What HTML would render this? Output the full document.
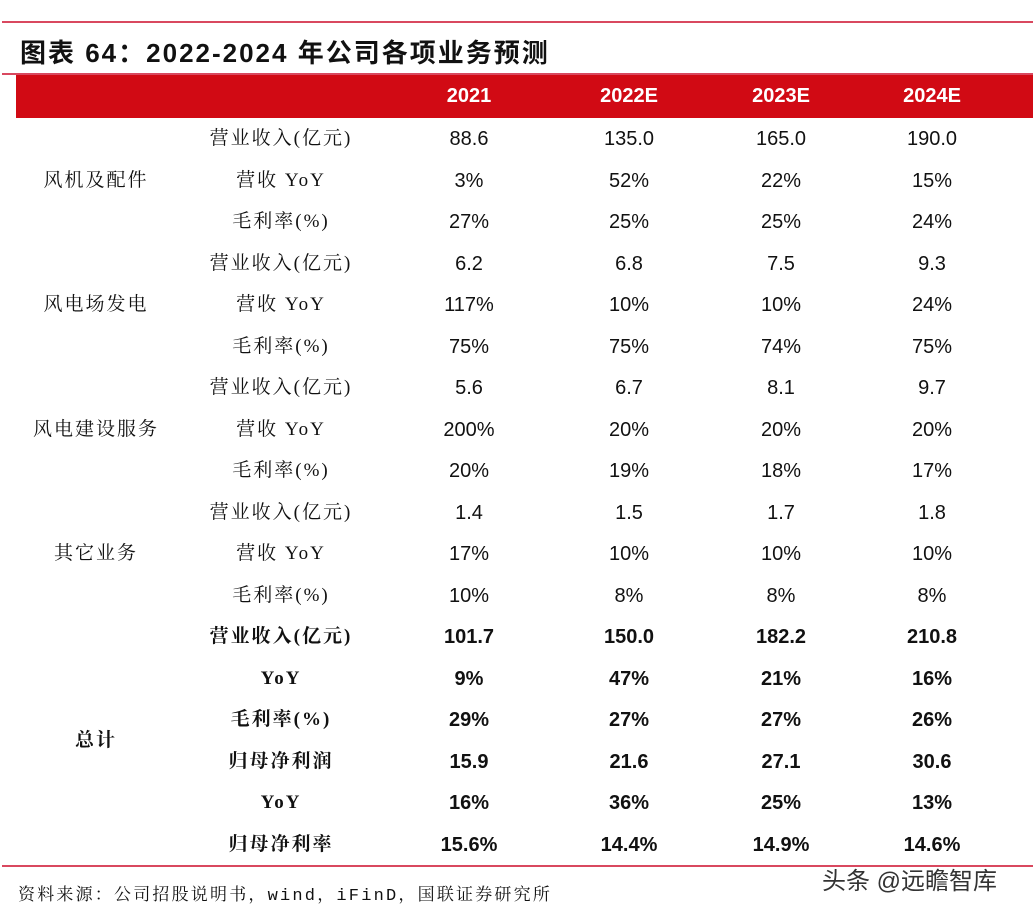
<!DOCTYPE html>
<html><head><meta charset="utf-8">
<style>
body{margin:0;width:1033px;height:912px;background:#fff;position:relative;overflow:hidden;font-family:"Liberation Sans","Noto Sans CJK SC",sans-serif;}
.line{position:absolute;left:2px;width:1031px;height:2px;background:#d9485f;}
.title{position:absolute;left:20px;top:33px;font-size:26px;letter-spacing:2px;font-weight:bold;color:#111;font-family:"Liberation Sans","Noto Sans CJK SC",sans-serif;white-space:nowrap;}
.hdr{position:absolute;left:16px;top:75px;width:1017px;height:43px;background:#d10a14;}
.hc{position:absolute;top:75px;height:43px;line-height:43px;width:140px;margin-left:-70px;text-align:center;color:#fff;font-weight:bold;font-size:20px;}
.cell{position:absolute;height:30px;line-height:30px;width:150px;margin-left:-75px;text-align:center;font-size:20px;color:#111;}
.lab{position:absolute;height:30px;line-height:30px;width:240px;margin-left:-120px;text-align:center;font-size:19px;letter-spacing:2px;color:#111;font-family:"Liberation Serif","Noto Serif CJK SC",serif;white-space:nowrap;}
.b{font-weight:bold;}
.src{position:absolute;left:18px;top:880px;font-size:17px;letter-spacing:2.2px;color:#111;font-family:"Liberation Mono","Noto Serif CJK SC",monospace;white-space:nowrap;}
.wm{position:absolute;left:822px;top:861px;font-size:24px;color:#333;white-space:nowrap;}
</style></head>
<body>
<div class="line" style="top:21px"></div>
<div class="title">图表 64：2022-2024 年公司各项业务预测</div>
<div class="line" style="top:73px"></div>
<div class="hdr"></div>
<div class="hc" style="left:469px">2021</div>
<div class="hc" style="left:629px">2022E</div>
<div class="hc" style="left:781px">2023E</div>
<div class="hc" style="left:932px">2024E</div>
<div id="body"></div>
<div class="line" style="top:865px"></div>
<div class="src">资料来源：公司招股说明书，wind，iFinD，国联证券研究所</div>
<div class="wm">头条 @远瞻智库</div>
<script>
const groups=["风机及配件","风电场发电","风电建设服务","其它业务","总计"];
const rowLabels=["营业收入(亿元)","营收 YoY","毛利率(%)","营业收入(亿元)","营收 YoY","毛利率(%)","营业收入(亿元)","营收 YoY","毛利率(%)","营业收入(亿元)","营收 YoY","毛利率(%)","营业收入(亿元)","YoY","毛利率(%)","归母净利润","YoY","归母净利率"];
const col2021=["88.6","3%","27%","6.2","117%","75%","5.6","200%","20%","1.4","17%","10%","101.7","9%","29%","15.9","16%","15.6%"];
const col2022=["135.0","52%","25%","6.8","10%","75%","6.7","20%","19%","1.5","10%","8%","150.0","47%","27%","21.6","36%","14.4%"];
const col2023=["165.0","22%","25%","7.5","10%","74%","8.1","20%","18%","1.7","10%","8%","182.2","21%","27%","27.1","25%","14.9%"];
const col2024=["190.0","15%","24%","9.3","24%","75%","9.7","20%","17%","1.8","10%","8%","210.8","16%","26%","30.6","13%","14.6%"];
const cols=[col2021,col2022,col2023,col2024];
const colX=[469,629,781,932];
const body=document.getElementById('body');
const y0=139, dy=41.5;
function mk(cls,x,yc,txt){const d=document.createElement('div');d.className=cls;d.style.left=x+'px';d.style.top=(yc-15)+'px';d.textContent=txt;body.appendChild(d);return d;}
groups.forEach((g,i)=>{
  const yc = i<4 ? y0+(i*3+1)*dy : y0+14.5*dy;
  const d=mk('lab'+(i==4?' b':''),96,yc,g);
  
  
});
rowLabels.forEach((t,r)=>{
  const yc=y0+r*dy; const bold=r>=12;
  const d=mk('lab'+(bold?' b':''),281,yc,t);
  
  
  cols.forEach((c,ci)=>{
    const e=mk('cell'+(bold?' b':''),colX[ci],yc,c[r]);
    
    
  });
});
</script>
</body></html>
